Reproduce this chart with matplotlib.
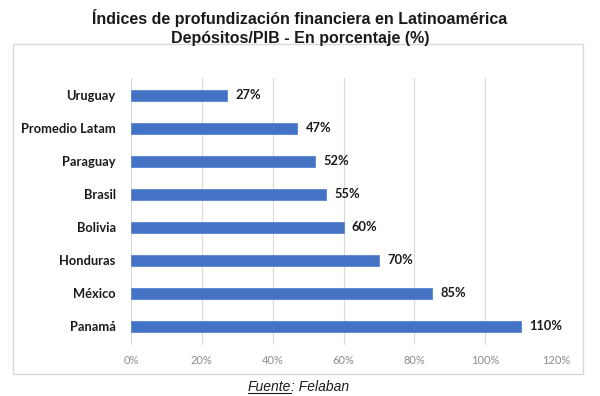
import matplotlib
matplotlib.use("Agg")
import matplotlib.pyplot as plt
from matplotlib.patches import Rectangle
from matplotlib.lines import Line2D

categories = ["Uruguay", "Promedio Latam", "Paraguay", "Brasil", "Bolivia", "Honduras", "México", "Panamá"]
values = [27, 47, 52, 55, 60, 70, 85, 110]
xticks = [0, 20, 40, 60, 80, 100, 120]
xtick_labels = ["0%", "20%", "40%", "60%", "80%", "100%", "120%"]

W, H = 600, 396
fig = plt.figure(figsize=(6, 3.96), dpi=100)
fig.patch.set_facecolor("white")

# chart box
fig.patches.append(Rectangle((13 / W, 1 - 374 / H), (583 - 13) / W, (374 - 44) / H,
                             transform=fig.transFigure, fill=False,
                             edgecolor="#D9D9D9", linewidth=1.0))

ax = fig.add_axes([131 / W, 1 - 345 / H, (556 - 131) / W, (345 - 78) / H])
y = list(range(len(categories)))
ax.barh(y, values, height=0.34, color="#4472C4", edgecolor="#5B85D0", linewidth=0.6, zorder=3)
ax.set_ylim(len(categories) - 0.5 + 0.06, -0.5 - 0.02)
ax.set_xlim(0, 120)
ax.set_xticks(xticks)
ax.set_xticklabels(xtick_labels, fontsize=8, color="#8C8C8C", family="Lato")
ax.set_yticks(y)
ax.set_yticklabels(categories, fontsize=9.3, fontweight="bold", color="#1A1A1A", family="Lato")
ax.tick_params(axis="both", length=0)
ax.tick_params(axis="x", pad=7)
ax.tick_params(axis="y", pad=11)
ax.grid(axis="x", color="#D9D9D9", linewidth=0.8, zorder=0)
for s in ax.spines.values():
    s.set_visible(False)

for yi, v in zip(y, values):
    ax.text(v + 2.4, yi, f"{v}%", va="center", ha="left", fontsize=9.3,
            fontweight="bold", color="#1A1A1A", family="Lato")

fig.text(0.5, 1 - 18 / H, "Índices de profundización financiera en Latinoamérica",
         ha="center", va="center", fontsize=11.5, fontweight="bold", family="Liberation Sans", color="#1A1A1A")
fig.text(0.5, 1 - 38 / H, "Depósitos/PIB - En porcentaje (%)",
         ha="center", va="center", fontsize=11.5, fontweight="bold", family="Liberation Sans", color="#1A1A1A")

# Source with underlined "Fuente"
t1 = fig.text(248 / W, 1 - 387 / H, "Fuente", ha="left", va="center", fontsize=10,
              style="italic", family="Liberation Sans", color="#1A1A1A")
fig.canvas.draw()
r = fig.canvas.get_renderer()
bb = t1.get_window_extent(r)
t2 = fig.text(bb.x1 / W, 1 - 387 / H, ": Felaban", ha="left", va="center", fontsize=10,
              style="italic", family="Liberation Sans", color="#1A1A1A")
fig.lines.append(Line2D([bb.x0 / W, bb.x1 / W], [(bb.y0 + 1) / H, (bb.y0 + 1) / H],
                        transform=fig.transFigure, color="#1A1A1A", linewidth=0.8))

fig.savefig("out.png", dpi=100, facecolor="white")
